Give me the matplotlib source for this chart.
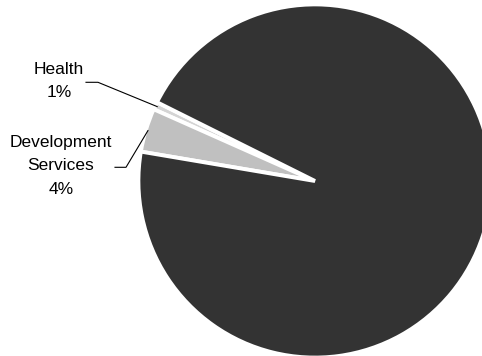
import numpy as np
import matplotlib
import matplotlib.pyplot as plt

matplotlib.rcParams['font.family'] = ['Liberation Sans', 'DejaVu Sans']
matplotlib.rcParams['font.size'] = 12.5

# data
categories = ["Health", "Development\nServices", "Other"]
shares = [0.7, 4.0, 95.3]
pct_labels = ["1%", "4%", None]
colors = ["#d4d4d4", "#c0c0c0", "#333333"]

# layout in pixels (figure is 482 x 356)
W, H = 482, 356
cx, cy, S = 315, 181, 174.5


def px(x, y):
    return (x - cx) / S, (cy - y) / S


fig = plt.figure(figsize=(W / 100, H / 100), dpi=100)
ax = fig.add_axes([0, 0, 1, 1])

wedges, _ = ax.pie(shares, colors=colors, startangle=153.5, counterclock=True,
                   radius=1.012, center=(0, 0), frame=True,
                   wedgeprops=dict(edgecolor="white", linewidth=2.8))
ax.set_xlim(px(0, 0)[0], px(W, 0)[0])
ax.set_ylim(px(0, H)[1], px(0, 0)[1])
ax.set_aspect("auto")
ax.axis("off")

# label positions (text centre, elbow of leader, leader start)
label_pos = [(59, 81), (61, 166)]
elbows = [(98, 82.3), (126, 167.3)]
starts = [(86, 82.3), (115, 167.3)]

for i in range(2):
    w = wedges[i]
    mid = np.deg2rad((w.theta1 + w.theta2) / 2)
    tip = (1.0 * np.cos(mid), 1.0 * np.sin(mid))
    xs = [px(*starts[i])[0], px(*elbows[i])[0], tip[0]]
    ys = [px(*starts[i])[1], px(*elbows[i])[1], tip[1]]
    ax.plot(xs, ys, color="black", linewidth=0.8)
    tx, ty = px(*label_pos[i])
    ax.text(tx, ty, categories[i] + "\n" + pct_labels[i], ha="center",
            va="center", linespacing=1.72, color="black")

fig.savefig("out.png", dpi=100)
